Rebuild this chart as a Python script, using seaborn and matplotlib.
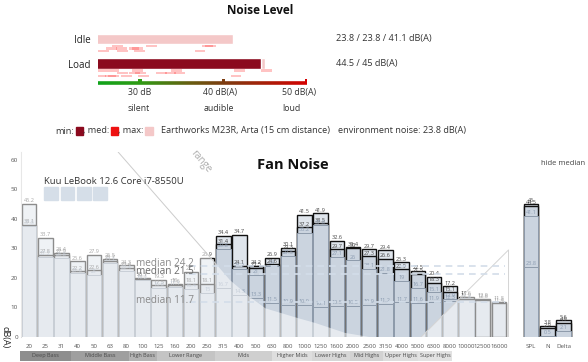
import numpy as np
import pandas as pd
import matplotlib
matplotlib.use('Agg')
import matplotlib.pyplot as plt
from matplotlib.patches import Rectangle, Polygon
from matplotlib.collections import LineCollection
from matplotlib.colors import LinearSegmentedColormap
import seaborn as sns

W, H = 588, 362

# --- noise level summary ---
levels = ['Idle', 'Load']
level_min = [23.8, 44.5]
level_med = [23.8, 44.5]
level_max = [41.1, 45.0]
level_text = ['23.8 / 23.8 / 41.1 dB(A)', '44.5 / 45 dB(A)']
scale_ticks = [30, 40, 50]
scale_labels = ['30 dB', '40 dB(A)', '50 dB(A)']
scale_names = ['silent', 'audible', 'loud']

# --- fan noise spectrum (four measurements per band) ---
freqs = ['20', '25', '31', '40', '50', '63', '80', '100', '125', '160', '200', '250',
         '315', '400', '500', '630', '800', '1000', '1250', '1600', '2000', '2500',
         '3150', '4000', '5000', '6300', '8000', '10000', '12500', '16000']
extra = ['SPL', 'N', 'Delta']
nan = np.nan
ser_a = [45.2, 33.7, 28.4, 25.6, 27.9, 26.5, 24.3, 20.1, 19.3, 18.0, 22.1, 26.9,
         34.4, 34.7, 24.2, 26.9, 30.1, 41.5, 41.9, 32.6, 30.4, 29.7, 29.4, 25.3,
         22.5, 20.4, 17.2, 13.6, 12.9, 11.8, 45.0, 3.8, 5.6]
ser_b = [38.1, 27.8, 27.9, 22.2, 22.6, 25.7, 23.4, 19.7, 17.5, 17.6, 18.1, 18.1,
         31.4, 24.1, 23.5, 24.6, 29.3, 37.2, 38.5, 29.7, 30.0, 27.3, 26.6, 22.9,
         21.5, 18.3, 15.1, 12.9, 12.6, 11.4, 44.5, 2.9, 4.9]
ser_c = [37.6, 27.2, 26.8, 21.6, 21.0, 25.2, 22.4, 19.2, 16.6, 17.1, 16.4, 15.0,
         29.8, 23.2, 21.0, 24.0, 27.5, 35.2, 37.8, 27.1, 26.0, 23.1, 21.8, 19.0,
         16.7, 15.1, 12.9, 12.4, nan, nan, 41.1, 0.5, 2.1]
ser_d = [nan, nan, nan, nan, nan, nan, nan, nan, nan, nan, nan, nan,
         16.7, 14.3, 13.3, 11.5, 10.9, 10.9, 10.1, 10.5, 10.5, 10.9, 11.2, 11.7,
         11.6, 11.9, 12.3, nan, nan, nan, 23.8, nan, nan]
medians = [24.2, 21.5, 11.7]

# hearing threshold shading (band index, dB)
low_x = [-0.47, 5.5, 11.6, 12.4, 13.6, 14.6, 16.6, 17.7, 19.5, 21.0, -0.47]
low_y = [62.7, 62.7, 24.4, 19.3, 13.7, 9.7, 6.4, 4.7, 1.4, 0.0, 0.0]
high_x = [24.2, 29.6, 29.6]
high_y = [0.0, 29.5, 0.0]

bands = ['Deep Bass', 'Middle Bass', 'High Bass', 'Lower Range', 'Mids', 'Higher Mids',
         'Lower Highs', 'Mid Highs', 'Upper Highs', 'Super Highs']
band_width = [51, 58, 28, 58, 57, 40, 38, 33, 35, 34]
band_color = ['#8e8e8e', '#9f9f9f', '#b3b3b3', '#c4c4c4', '#cfcfcf', '#dedede',
              '#d7d7d7', '#d2d2d2', '#dedede', '#e2e2e2']

sns.set_style('white')
plt.rcParams['font.family'] = ['Open Sans', 'DejaVu Sans']

fig = plt.figure(figsize=(W / 100, H / 100), dpi=100)


def axes_px(x0, y0, x1, y1):
    return fig.add_axes([x0 / W, 1 - y1 / H, (x1 - x0) / W, (y1 - y0) / H])


def ftext(px, py, s, **kw):
    fig.text(px / W, 1 - py / H, s, **kw)


# ================= Noise Level =================
ftext(260, 10.5, 'Noise Level', ha='center', va='center', fontsize=8.5,
      fontweight='bold', color='#111')

ax1 = axes_px(98, 26.75, 307, 88)
lv = pd.DataFrame({'level': levels, 'min': level_min, 'med': level_med, 'max': level_max})
sns.barplot(data=lv, x='max', y='level', orient='y', color='#f4c8c8', saturation=1,
            width=0.44, ax=ax1, errorbar=None)
sns.barplot(data=lv, x='med', y='level', orient='y', color='#ee1111', saturation=1,
            width=0.44, ax=ax1, errorbar=None)
sns.barplot(data=lv, x='min', y='level', orient='y', color='#8b0a1e', saturation=1,
            width=0.44, ax=ax1, errorbar=None)

# spectrum values as small distribution marks under each bar
for row, vals in enumerate([ser_b[:30], ser_a[:30]]):
    for i, v in enumerate(vals):
        if np.isnan(v) or v < 25:
            continue
        ax1.bar(v, 0.1, width=1.3, bottom=row + 0.23 + 0.11 * (i % 3),
                color='#ff2a2a', alpha=0.28, linewidth=0, align='center')

cmap = LinearSegmentedColormap.from_list('lvl', [(0, '#10a31a'), (0.2, '#2f9a14'),
                                                 (0.45, '#6a5a10'), (0.6, '#7c3c10'),
                                                 (1, '#d40000')])
xs = np.linspace(25, 50, 200)
segs = [[(xs[k], 1.78), (xs[k + 1], 1.78)] for k in range(len(xs) - 1)]
lc = LineCollection(segs, colors=cmap((xs[:-1] - 25) / 25), linewidths=2.6)
ax1.add_collection(lc)
ax1.scatter(scale_ticks, [1.72] * 3, marker='s', s=7,
            c=cmap((np.array(scale_ticks) - 25) / 25), zorder=3, linewidths=0)
for t, lab, nm, off in zip(scale_ticks, scale_labels, scale_names, [-12, -20, -25]):
    ax1.annotate(lab, (t, 2.2), xytext=(off, 0), textcoords='offset pixels',
                 ha='left', va='center', fontsize=6.3, color='#333', annotation_clip=False)
    ax1.annotate(nm, (t, 2.82), xytext=(off, 0), textcoords='offset pixels',
                 ha='left', va='center', fontsize=6.3, color='#333', annotation_clip=False)
for i, s in enumerate(level_text):
    ax1.text(1.139, i, s, transform=ax1.get_yaxis_transform(), ha='left', va='center',
             fontsize=6.6, color='#333')
ax1.set_xlim(25, 50)
ax1.set_ylim(2.0, -0.5)
ax1.set_xlabel('')
ax1.set_ylabel('')
ax1.set_xticks([])
ax1.tick_params(axis='y', length=0, pad=5.5, labelsize=7, labelcolor='#222')
for sp in ax1.spines.values():
    sp.set_visible(False)
ax1.patch.set_alpha(0)

# legend line
ftext(55, 131, 'min:', ha='left', va='center', fontsize=6.6, color='#333')
fig.patches.append(Rectangle((76 / W, 1 - 135 / H), 7 / W, 8 / H, color='#8b0a1e',
                             transform=fig.transFigure, figure=fig))
ftext(83, 131, ', med:', ha='left', va='center', fontsize=6.6, color='#333')
fig.patches.append(Rectangle((111 / W, 1 - 135 / H), 7 / W, 8 / H, color='#ee1111',
                             transform=fig.transFigure, figure=fig))
ftext(118, 131, ', max:', ha='left', va='center', fontsize=6.6, color='#333')
fig.patches.append(Rectangle((145 / W, 1 - 135 / H), 8 / W, 8 / H, color='#f4c8c8',
                             transform=fig.transFigure, figure=fig))
ftext(161, 131, 'Earthworks M23R, Arta (15 cm distance)', ha='left', va='center',
      fontsize=6.6, color='#333')
ftext(338, 131, 'environment noise: 23.8 dB(A)', ha='left', va='center',
      fontsize=6.6, color='#333')

# ================= Fan Noise =================
ax = axes_px(21.4, 152, 579.8, 337)
labels = freqs + extra
pos = list(range(len(freqs))) + [31, 32, 33]
styles = [(ser_a, '#dfe5ec', '#111111', 1.0),
          (ser_b, '#cbd4df', '#111111', 1.0),
          (ser_c, '#cbd4df', '#8e9bab', 0.7),
          (ser_d, '#cbd4df', '#8e9bab', 0.7)]
for k, (vals, face, edge, lw) in enumerate(styles):
    d = pd.DataFrame({'pos': pos, 'value': vals}).dropna()
    sns.barplot(data=d, x='pos', y='value', orient='x', native_scale=True, width=0.9,
                color=face, saturation=1, edgecolor=edge, linewidth=lw,
                errorbar=None, ax=ax)
    for p, v in zip(d['pos'], d['value']):
        ax.text(p, v + 0.25, f'{v:g}', ha='center', va='bottom', fontsize=4.0,
                color='#444' if k < 2 else '#8b9bb0', zorder=4)

ax.add_patch(Polygon(list(zip(low_x, low_y)), closed=True, facecolor='white',
                     alpha=0.52, edgecolor='none', zorder=5))
ax.plot(low_x[1:3], low_y[1:3], color='#cccccc', lw=0.7, zorder=5)
ax.add_patch(Polygon(list(zip(high_x, high_y)), closed=True, facecolor='white',
                     alpha=0.52, edgecolor='none', zorder=5))
ax.plot(high_x, high_y, color='#d4d4d4', lw=0.7, zorder=5)

for m, col in zip(medians, ['#8a8a8a', '#6a6a6a', '#8a8a8a']):
    ax.hlines(m, 9.9, 29.4, colors='#d3dde9', linestyles=(0, (4, 3)), lw=1.2, zorder=6)
    ax.text(6.6, m + 0.6, f'median {m}', ha='left', va='center', fontsize=7.2,
            color=col, zorder=7)

ax.text(10.6, 59.5, 'range', rotation=-50, ha='center', va='center', fontsize=7,
        color='#aaaaaa', zorder=6)

ax.set_xlim(-0.47, 34.0)
ax.set_ylim(0, 62.7)
ax.set_xticks(pos)
ax.set_xticklabels(labels)
ax.set_yticks([0, 10, 20, 30, 40, 50, 60])
ax.set_xlabel('')
ax.set_ylabel('')
ax.tick_params(axis='x', length=0, pad=5, labelsize=4.4, labelcolor='#555')
ax.tick_params(axis='y', length=0, pad=2.5, labelsize=4.5, labelcolor='#555')
for name, sp in ax.spines.items():
    sp.set_visible(name == 'left')
ax.spines['left'].set_color('#dddddd')
ax.spines['left'].set_linewidth(0.8)
ax.patch.set_alpha(0)

ftext(293, 165, 'Fan Noise', ha='center', va='center', fontsize=10.5,
      fontweight='bold', color='#111')
ftext(541, 163.5, 'hide median', ha='left', va='center', fontsize=5.5, color='#444')
ftext(44, 181.5, 'Kuu LeBook 12.6 Core i7-8550U', ha='left', va='center',
      fontsize=6.8, color='#333')
for x0 in [44, 60.7, 77, 93]:
    fig.patches.append(Rectangle((x0 / W, 1 - 200 / H), 13.5 / W, 12.7 / H,
                                 color='#d5dee8', transform=fig.transFigure, figure=fig))
ftext(5, 337.5, 'dB(A)', ha='center', va='center', rotation=270, fontsize=6.5,
      color='#222')

# frequency range strip
axb = axes_px(20, 350.7, 452, 360.7)
left = np.concatenate([[0], np.cumsum(band_width)[:-1]])
axb.barh(0, band_width, left=left, height=1, color=band_color, linewidth=0)
for l, w, name in zip(left, band_width, bands):
    axb.text(l + w / 2, 0, name, ha='center', va='center', fontsize=4.0, color='#4a4a4a')
axb.set_xlim(0, sum(band_width))
axb.set_ylim(-0.5, 0.5)
axb.axis('off')

fig.savefig('out.png', dpi=100)
